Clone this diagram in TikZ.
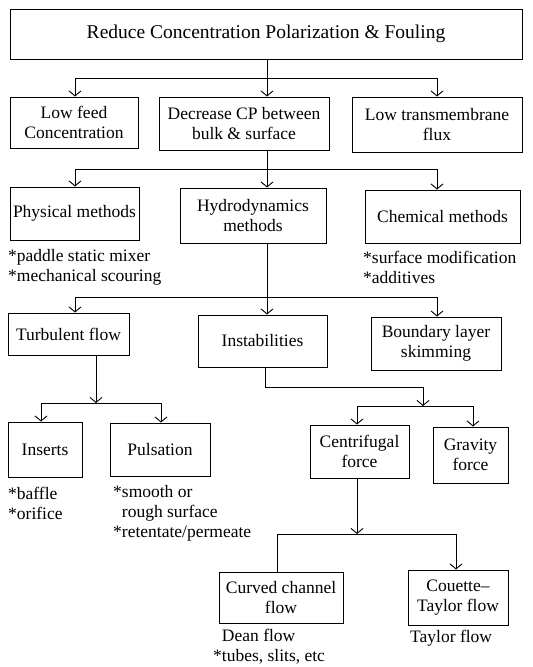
\documentclass[tikz,border=0pt]{standalone}
\usepackage{fontspec}
\setmainfont{Liberation Serif}
\usetikzlibrary{arrows.meta}
\begin{document}
\begin{tikzpicture}[x=1pt,y=-1pt,
  box/.style={draw, line width=1pt, inner sep=0pt, align=center, font=\fontsize{17.5}{20}\selectfont},
  note/.style={inner sep=0pt, align=left, anchor=west, font=\fontsize{17.5}{20}\selectfont},
  ln/.style={line width=0.9pt},
  arr/.style={ln, -{Straight Barb[length=5pt,width=12pt]}}]
\useasboundingbox (0,0) rectangle (533,667);
% boxes
\node[box, minimum width=512pt, minimum height=50pt, font=\fontsize{19.5}{23}\selectfont] (top) at (266,34) {Reduce Concentration Polarization \& Fouling};
\node[box, minimum width=128pt, minimum height=51pt] (lowfeed) at (74,122.5) {Low feed\\Concentration};
\node[box, minimum width=170pt, minimum height=53pt] (decrease) at (244,123.5) {Decrease CP between\\bulk \& surface};
\node[box, minimum width=170pt, minimum height=55pt] (lowtm) at (437,124.5) {Low transmembrane\\flux};
\node[box, minimum width=129pt, minimum height=53pt] (physical) at (74.5,213.5) {Physical methods};
\node[box, minimum width=146pt, minimum height=55pt] (hydro) at (253,215.5) {Hydrodynamics\\methods};
\node[box, minimum width=155pt, minimum height=53pt] (chemical) at (442.5,216.5) {Chemical methods};
\node[box, minimum width=121pt, minimum height=42pt] (turb) at (68.5,334) {Turbulent flow};
\node[box, minimum width=129pt, minimum height=52pt] (instab) at (262.5,341) {Instabilities};
\node[box, minimum width=130pt, minimum height=53pt] (boundary) at (436,343.5) {Boundary layer\\skimming};
\node[box, minimum width=74pt, minimum height=55pt] (inserts) at (45,449.5) {Inserts};
\node[box, minimum width=100pt, minimum height=53pt] (pulsation) at (160,449.5) {Pulsation};
\node[box, minimum width=99pt, minimum height=53pt] (centri) at (359.5,451.5) {Centrifugal\\force};
\node[box, minimum width=75pt, minimum height=56pt] (gravity) at (470.5,455) {Gravity\\force};
\node[box, minimum width=124pt, minimum height=51pt] (curved) at (281,597.5) {Curved channel\\flow};
\node[box, minimum width=100pt, minimum height=55pt] (couette) at (458,597.5) {Couette--\\Taylor flow};
% notes
\node[note] (nphys) at (8,267) {*paddle static mixer\\*mechanical scouring};
\node[note] (nchem) at (363,267.5) {*surface modification\\*additives};
\node[note] (nins) at (8,503) {*baffle\\*orifice};
\node[note] (npuls) at (113,513) {*smooth or\\\phantom{*}rough surface\\*retentate/permeate};
\node[note] (ncurv) at (213,646.5) {\phantom{*}Dean flow\\*tubes, slits, etc};
\node[note] (ncou) at (410,638) {Taylor flow};
% connectors level 1
\coordinate (j1) at (267,78);
\coordinate (j1l) at (75,78);
\coordinate (j1r) at (437,78);
\draw[ln] (top.south -| j1) -- (j1);
\draw[ln] (j1l) -- (j1r);
\draw[arr] (j1l) -- (j1l |- lowfeed.north);
\draw[arr] (j1) -- (j1 |- decrease.north);
\draw[arr] (j1r) -- (j1r |- lowtm.north);
% level 2
\coordinate (j2) at (267,169);
\coordinate (j2l) at (75,169);
\coordinate (j2r) at (437,169);
\draw[ln] (decrease.south -| j2) -- (j2);
\draw[ln] (j2l) -- (j2r);
\draw[arr] (j2l) -- (j2l |- physical.north);
\draw[arr] (j2) -- (j2 |- hydro.north);
\draw[arr] (j2r) -- (j2r |- chemical.north);
% level 3
\coordinate (j3) at (267,297);
\coordinate (j3l) at (75,297);
\coordinate (j3r) at (437,297);
\draw[ln] (hydro.south -| j3) -- (j3);
\draw[ln] (j3l) -- (j3r);
\draw[arr] (j3l) -- (j3l |- turb.north);
\draw[arr] (j3) -- (j3 |- instab.north);
\draw[arr] (j3r) -- (j3r |- boundary.north);
% turbulent
\coordinate (t1) at (96,403);
\coordinate (t1l) at (41,403);
\coordinate (t1r) at (161,403);
\draw[arr] (turb.south -| t1) -- (t1);
\draw[ln] (t1l) -- (t1r);
\draw[arr] (t1l) -- (t1l |- inserts.north);
\draw[arr] (t1r) -- (t1r |- pulsation.north);
% instabilities
\coordinate (i0) at (265,387);
\coordinate (i1) at (423,406);
\coordinate (i1l) at (357,406);
\coordinate (i1r) at (473,406);
\draw[arr] (instab.south -| i0) -- (i0) -| (i1);
\draw[ln] (i1l) -- (i1r);
\draw[arr] (i1l) -- (i1l |- centri.north);
\draw[arr] (i1r) -- (i1r |- gravity.north);
% centrifugal
\coordinate (c1) at (357,534);
\coordinate (c1l) at (277,534);
\coordinate (c1r) at (456,534);
\draw[arr] (centri.south -| c1) -- (c1);
\draw[ln] (c1l) -- (c1r);
\draw[ln] (c1l) -- (c1l |- curved.north);
\draw[arr] (c1r) -- (c1r |- couette.north);
\end{tikzpicture}
\end{document}
